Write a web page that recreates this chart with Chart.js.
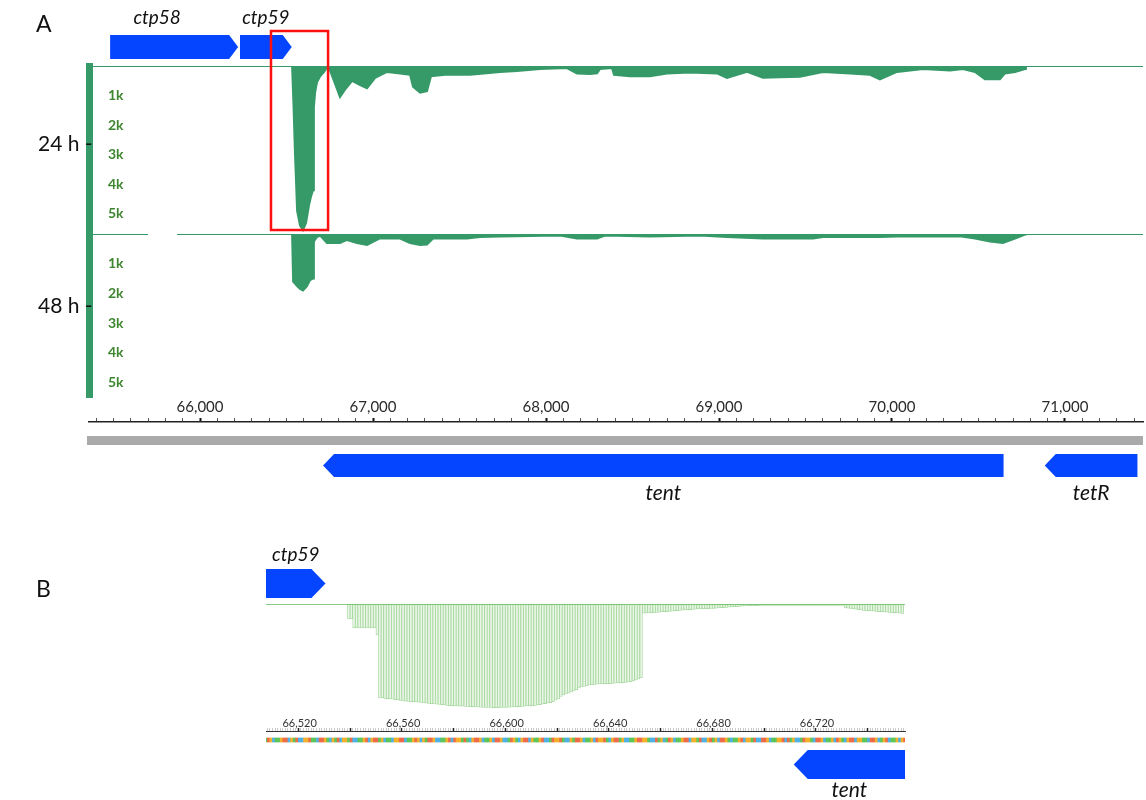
<!DOCTYPE html>
<html>
<head>
<meta charset="utf-8">
<title>Coverage tracks</title>
<script src="https://cdn.jsdelivr.net/npm/chart.js@4.4.1/dist/chart.umd.min.js"></script>
<style>
  body { margin: 0; background: #fff; }
  #fig { position: relative; width: 1146px; height: 800px; overflow: hidden; font-family: Lato, 'Open Sans', sans-serif; }
  #fig canvas { position: absolute; left: 0; }
  .lbl { position: absolute; color: #111; line-height: 1; white-space: nowrap; }
</style>
</head>
<body>
<div id="fig">
  <canvas id="a24" width="1146" height="240" style="top:0px"></canvas>
  <canvas id="a48" width="1146" height="175" style="top:228px"></canvas>
  <canvas id="aRuler" width="1146" height="115" style="top:395px"></canvas>
  <canvas id="bCov" width="1146" height="180" style="top:540px"></canvas>
  <canvas id="bRuler" width="1146" height="100" style="top:700px"></canvas>
  <div class="lbl" style="left:36px;top:12px;font-size:23px">A</div>
  <div class="lbl" style="left:38px;top:132px;font-size:21px">24 h -</div>
  <div class="lbl" style="left:38px;top:294px;font-size:21px">48 h -</div>
  <div class="lbl" style="left:36px;top:577px;font-size:23px">B</div>
</div>
<script>
// genes (bp), strand +1 = forward, -1 = reverse
const geneNames  = ['ctp58', 'ctp59', 'tent', 'tetR'];
const geneStarts = [65480, 66231, 66711, 70883];
const geneEnds   = [66220, 66530, 70645, 71419];
const geneStrand = [1, 1, -1, -1];

// coverage axis ticks (reads) and genome ruler labels (bp)
const covTicks = [0, 1000, 2000, 3000, 4000, 5000];
const rulerLabelsA = [66000, 67000, 68000, 69000, 70000, 71000];
const rulerStepA = 100;

// panel A, 24 h coverage (position bp, reads)
const posA24 = [65358, 66532, 66540, 66549, 66561, 66578, 66595, 66613, 66630, 66642,
                66653, 66658, 66665, 66676, 66694, 66717, 66734, 66751, 66780, 66809,
                66838, 66879, 66925, 66965, 67012, 67081, 67156, 67214, 67231, 67272,
                67312, 67335, 67416, 67561, 67734, 67832, 67965, 68121, 68179, 68254,
                68295, 68312, 68381, 68393, 68485, 68601, 68699, 68832, 68988, 69046,
                69162, 69254, 69352, 69468, 69601, 69757, 69873, 69930, 70029, 70179,
                70335, 70410, 70480, 70537, 70624, 70653, 70711, 70769, 70774, 71451];
const cov24  = [0, 0, 1300, 3000, 4900, 5400, 5550, 5300, 4700, 4400,
                4200, 1400, 900, 550, 350, 200, 50, 150, 600, 1050,
                800, 500, 650, 750, 400, 200, 250, 300, 700, 900,
                850, 350, 300, 300, 200, 170, 100, 70, 250, 270,
                250, 100, 70, 300, 350, 350, 250, 220, 250, 400,
                200, 400, 380, 360, 200, 250, 300, 450, 200, 100,
                150, 100, 200, 450, 450, 250, 200, 100, 0, 0];

// panel A, 48 h coverage (null = gap in the track line)
const posA48 = [65358, 65699, 65780, 65867, 66532, 66538, 66561, 66578, 66595, 66618,
                66636, 66653, 66658, 66676, 66694, 66734, 66809, 66850, 66907, 66965,
                67040, 67156, 67214, 67272, 67312, 67347, 67543, 67618, 67734, 68081,
                68179, 68295, 68341, 68601, 68890, 69046, 69254, 69543, 69601, 69930,
                70029, 70393, 70480, 70566, 70641, 70711, 70769, 70774, 71451];
const cov48  = [0, 0, null, 0, 0, 1600, 1750, 1850, 1900, 1750,
                1550, 1500, 250, 100, 50, 300, 300, 200, 300, 370,
                150, 150, 300, 370, 350, 150, 150, 100, 80, 50,
                150, 150, 50, 80, 50, 100, 150, 150, 100, 100,
                80, 80, 150, 250, 300, 150, 20, 0, 0];

// panel B, per-base coverage from 66,539
const bStart = 66539;
const bCov = [750, 750, 1200, 1200, 1200, 1200, 1200, 1200, 1200, 1200,
              1200, 1550, 4700, 4700, 4720, 4740, 4750, 4760, 4780, 4800,
              4820, 4850, 4860, 4870, 4880, 4890, 4900, 4910, 4920, 4950,
              4960, 4970, 4980, 5000, 5010, 5020, 5040, 5050, 5070, 5080,
              5090, 5100, 5100, 5110, 5110, 5120, 5120, 5130, 5140, 5150,
              5160, 5160, 5170, 5170, 5170, 5170, 5180, 5180, 5180, 5170,
              5170, 5170, 5160, 5160, 5150, 5140, 5130, 5120, 5110, 5100,
              5090, 5080, 5070, 5050, 5030, 5000, 4980, 4950, 4930, 4880,
              4800, 4750, 4620, 4550, 4500, 4450, 4400, 4350, 4280, 4200,
              4150, 4120, 4080, 4050, 4040, 4020, 4010, 4000, 4000, 3990,
              3980, 3980, 3970, 3960, 3950, 3950, 3940, 3920, 3900, 3880,
              3850, 3800, 3750, 3700, 460, 450, 450, 440, 430, 420,
              410, 400, 390, 380, 370, 360, 340, 330, 320, 310,
              300, 290, 280, 270, 260, 250, 250, 240, 230, 230,
              220, 220, 210, 200, 190, 180, 170, 160, 150, 140,
              130, 120, 110, 100, 95, 90, 85, 80, 80, 75,
              75, 70, 70, 70, 65, 65, 65, 65, 65, 65,
              65, 65, 65, 65, 65, 65, 65, 65, 65, 65,
              65, 65, 65, 65, 65, 65, 65, 70, 70, 70,
              70, 70, 200, 210, 220, 240, 260, 280, 300, 320,
              330, 340, 350, 360, 370, 380, 390, 400, 410, 420,
              430, 440, 450, 460, 470];

// reference sequence shown under the panel B ruler, from 66,507
const refSeq = 'ATGCAAGTTCGATCCGGTAACTTGACGATCGGATCCAAGTCGTTAGCAAC' +
               'GGTTCAAGTGCGATTGCCAAGTCTGGATACGTTGCAAGCTTGCCATGACG' +
               'TTCGAAGTCCATGGTACCGATTGCAAGCTGGTACGTTAGCCAAGTTGGAC' +
               'CTAGCATGCAAGTTCGGATCCGTAGCTTGACAAGTCGGATCCTTGCAAGG' +
               'TCTAGCCATGGACTTGCAAGCTGACGTTCGGAACTTGCAGTCAAGCGTAA';

const xMinA = 65358, xMaxA = 71451;
const xMinB = 66507, xMaxB = 66754;

const GREEN = '#369a68';
const BLUE = '#0645ff';
const baseColors = {A: '#5cc65a', C: '#4fb2e6', G: '#f4b02a', T: '#ee6b4a'};

Chart.defaults.font.family = "Lato, 'Open Sans', sans-serif";

// where the gene rows / highlight box sit, relative to each chart area top
const rowLayout = {
  a24:    {names: ['ctp58', 'ctp59'], top: -31, h: 24, tip: 9, labelY: -48, size: 19, shift: {ctp58: -17},
           box: {from: 66410, to: 66740, top: -35, bottom: 164}},
  aRuler: {names: ['tent', 'tetR'], top: 32, h: 23, tip: 11, labelY: 71, size: 21, band: [14, 9]},
  bCov:   {names: ['ctp59'], top: -35, h: 29, tip: 14, labelY: -49, size: 19},
  bRuler: {names: ['tent'], top: 19, h: 29, tip: 14, labelY: 59, size: 21}
};

const genePlugin = {
  id: 'genes',
  afterDraw(chart) {
    const o = rowLayout[chart.canvas.id];
    if (!o) return;
    const {ctx, chartArea: area, scales: {x}} = chart;
    ctx.save();
    if (o.band) {
      ctx.fillStyle = '#aaaaaa';
      ctx.fillRect(area.left - 2, area.top + o.band[0], area.width + 2, o.band[1]);
    }
    o.names.forEach(name => {
      const i = geneNames.indexOf(name);
      const x0 = x.getPixelForValue(geneStarts[i]);
      const x1 = x.getPixelForValue(geneEnds[i]);
      const top = area.top + o.top, h = o.h, mid = top + h / 2;
      ctx.save();
      ctx.beginPath();
      ctx.rect(area.left, 0, area.width, chart.height);
      ctx.clip();
      ctx.beginPath();
      if (geneStrand[i] > 0) {
        ctx.moveTo(x0, top); ctx.lineTo(x1 - o.tip, top); ctx.lineTo(x1, mid);
        ctx.lineTo(x1 - o.tip, top + h); ctx.lineTo(x0, top + h);
      } else {
        ctx.moveTo(x1, top); ctx.lineTo(x0 + o.tip, top); ctx.lineTo(x0, mid);
        ctx.lineTo(x0 + o.tip, top + h); ctx.lineTo(x1, top + h);
      }
      ctx.closePath();
      ctx.fillStyle = BLUE;
      ctx.fill();
      ctx.restore();
      const vx0 = Math.max(x0, area.left), vx1 = Math.min(x1, area.right);
      ctx.font = 'italic ' + o.size + "px Lato, 'Open Sans', sans-serif";
      ctx.fillStyle = '#111';
      ctx.textAlign = 'center';
      ctx.textBaseline = 'middle';
      ctx.fillText(name, (vx0 + vx1) / 2 + ((o.shift || {})[name] || 0), area.top + o.labelY);
    });
    if (o.box) {
      const bx0 = x.getPixelForValue(o.box.from), bx1 = x.getPixelForValue(o.box.to);
      ctx.strokeStyle = '#ff1010';
      ctx.lineWidth = 2.5;
      ctx.strokeRect(bx0, area.top + o.box.top, bx1 - bx0, o.box.bottom - o.box.top);
    }
    ctx.restore();
  }
};

function trackChart(id, pos, vals, maxV, padTop, padBottom) {
  return new Chart(id, {
    type: 'line',
    data: {
      datasets: [{
        data: pos.map((p, i) => ({x: p, y: vals[i]})),
        borderColor: GREEN,
        backgroundColor: GREEN,
        borderWidth: 2,
        fill: 'origin',
        pointRadius: 0,
        tension: 0,
        spanGaps: false
      }]
    },
    options: {
      responsive: false,
      animation: false,
      layout: {padding: {left: 82, right: 3, top: padTop, bottom: padBottom}},
      plugins: {legend: {display: false}, tooltip: {enabled: false}},
      scales: {
        x: {type: 'linear', min: xMinA, max: xMaxA, display: false},
        y: {
          min: 0, max: maxV, reverse: true,
          afterBuildTicks: s => { s.ticks = covTicks.map(v => ({value: v})); },
          afterFit: s => { s.width = 7; s.paddingTop = 0; s.paddingBottom = 0; },
          border: {display: true, width: 7, color: GREEN},
          grid: {display: false, drawTicks: false},
          ticks: {
            mirror: true, padding: 19, color: '#3d862f',
            font: {size: 14, weight: 'bold'},
            callback: v => v > 0 ? (v / 1000) + 'k' : ''
          }
        }
      }
    },
    plugins: [genePlugin]
  });
}

trackChart('a24', posA24, cov24, 5680, 66, 6);
trackChart('a48', posA48, cov48, 5480, 6, 6);

// genomic ruler for panel A, with the sequence band and the lower genes
new Chart('aRuler', {
  type: 'line',
  data: {datasets: [{data: []}]},
  options: {
    responsive: false,
    animation: false,
    layout: {padding: {left: 89, right: 3, top: 0, bottom: 5}},
    plugins: {legend: {display: false}, tooltip: {enabled: false}},
    scales: {
      x: {
        type: 'linear', position: 'top', min: xMinA, max: xMaxA,
        afterBuildTicks: s => {
          const t = [];
          for (let v = Math.ceil(s.min / rulerStepA) * rulerStepA; v <= s.max; v += rulerStepA) t.push({value: v});
          s.ticks = t;
        },
        afterFit: s => { s.height = 27; },
        border: {color: '#222', width: 1.5},
        grid: {
          drawOnChartArea: false, tickLength: 4,
          tickWidth: c => (c.tick && rulerLabelsA.includes(c.tick.value)) ? 2 : 1,
          tickColor: c => (c.tick && rulerLabelsA.includes(c.tick.value)) ? '#111' : '#555'
        },
        ticks: {
          autoSkip: false, maxRotation: 0, padding: 2,
          color: '#2a2a2a', font: {size: 15},
          callback: v => rulerLabelsA.includes(v) ? v.toLocaleString('en-US') : ''
        }
      },
      y: {display: false, min: 0, max: 83, reverse: true}
    }
  },
  plugins: [genePlugin]
});

// panel B coverage bars
new Chart('bCov', {
  type: 'bar',
  data: {
    datasets: [
      {
        type: 'line',
        data: [{x: xMinB, y: 0}, {x: xMaxB, y: 0}],
        borderColor: '#66bb60',
        borderWidth: 1.5,
        pointRadius: 0
      },
      {
        data: bCov.map((v, i) => ({x: bStart + i, y: v})),
        backgroundColor: '#eaf6e7',
        borderColor: '#a3d69b',
        borderWidth: 0.8,
        borderSkipped: false,
        barPercentage: 1,
        categoryPercentage: 1
      }
    ]
  },
  options: {
    responsive: false,
    animation: false,
    layout: {padding: {left: 266, right: 241, top: 64, bottom: 6}},
    plugins: {legend: {display: false}, tooltip: {enabled: false}},
    scales: {
      x: {type: 'linear', offset: false, min: xMinB, max: xMaxB, display: false},
      y: {min: 0, max: 5500, reverse: true, display: false}
    }
  },
  plugins: [genePlugin]
});

// panel B ruler with the reference sequence strip
const seqBases = refSeq.slice(0, xMaxB - xMinB + 1).split('');
new Chart('bRuler', {
  type: 'bar',
  data: {
    datasets: [{
      data: seqBases.map((b, i) => ({x: xMinB + i, y: [7, 11]})),
      backgroundColor: seqBases.map(b => baseColors[b]),
      borderWidth: 0,
      barPercentage: 1,
      categoryPercentage: 1
    }]
  },
  options: {
    responsive: false,
    animation: false,
    layout: {padding: {left: 266, right: 241, top: 0, bottom: 5}},
    plugins: {legend: {display: false}, tooltip: {enabled: false}},
    scales: {
      x: {
        type: 'linear', position: 'top', offset: false, min: xMinB, max: xMaxB,
        afterFit: s => { s.height = 31; },
        border: {color: '#333', width: 1},
        grid: {
          drawOnChartArea: false, tickLength: 3,
          tickWidth: c => (c.tick && c.tick.value % 20 === 0) ? 1.5 : 0.5,
          tickColor: c => (c.tick && c.tick.value % 20 === 0) ? '#222' : '#999'
        },
        ticks: {
          stepSize: 1, autoSkip: false, maxRotation: 0, padding: -2,
          color: '#333', font: {size: 11},
          callback: v => v % 40 === 0 ? v.toLocaleString('en-US') : ''
        }
      },
      y: {display: false, min: 0, max: 64, reverse: true}
    }
  },
  plugins: [genePlugin]
});
</script>
</body>
</html>
